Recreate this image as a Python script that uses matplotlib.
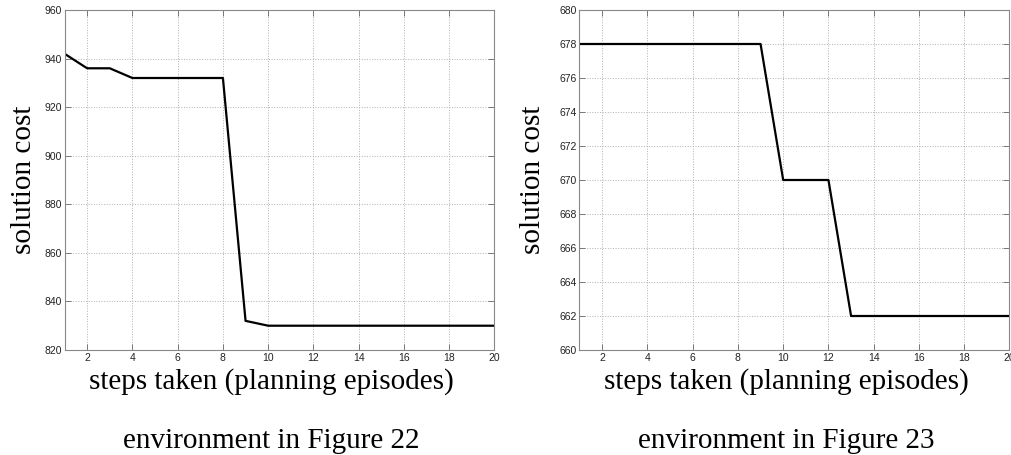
import matplotlib
matplotlib.use('Agg')
import matplotlib.pyplot as plt

steps = list(range(1, 21))
cost_fig22 = [942, 936, 936, 932, 932, 932, 932, 932, 832, 830,
              830, 830, 830, 830, 830, 830, 830, 830, 830, 830]
cost_fig23 = [678, 678, 678, 678, 678, 678, 678, 678, 678, 670,
              670, 670, 662, 662, 662, 662, 662, 662, 662, 662]
xticks = list(range(2, 21, 2))
yticks22 = list(range(820, 961, 20))
yticks23 = list(range(660, 681, 2))
titles = ['environment in Figure 22', 'environment in Figure 23']

W, H = 1012, 455
fig = plt.figure(figsize=(W / 100, H / 100), dpi=100)

serif = 'Liberation Serif'
sans = 'Liberation Sans'

panels = [
    (64.5, cost_fig22, yticks22, 24, 271, titles[0]),
    (579.5, cost_fig23, yticks23, 533, 786, titles[1]),
]

for left, cost, yt, ylab_x, cx, title in panels:
    ax = fig.add_axes([left / W, 1 - 350 / H, 430 / W, 340 / H])
    ax.plot(steps, cost, color='black', lw=1.6)
    ax.set_xlim(1, 20)
    ax.set_ylim(yt[0], yt[-1])
    ax.set_xticks(xticks)
    ax.set_yticks(yt)
    ax.grid(True, linestyle=':', color='#b0b0b0', lw=0.7)
    ax.tick_params(direction='in', top=True, right=True, length=4,
                   width=0.6, colors='#666666', labelcolor='#222222',
                   labelsize=7.5, pad=2)
    for lbl in ax.get_xticklabels() + ax.get_yticklabels():
        lbl.set_family(sans)
    for s in ax.spines.values():
        s.set_color('#888888')
        s.set_linewidth(0.8)
    fig.text(ylab_x / W, 1 - 180 / H, 'solution cost', rotation=90,
             ha='center', va='center', family=serif, fontsize=21)
    fig.text(cx / W, 1 - 389 / H, 'steps taken (planning episodes)',
             ha='center', va='baseline', family=serif, fontsize=21)
    fig.text(cx / W, 1 - 448 / H, title,
             ha='center', va='baseline', family=serif, fontsize=21)

fig.savefig('out.png', dpi=100)
